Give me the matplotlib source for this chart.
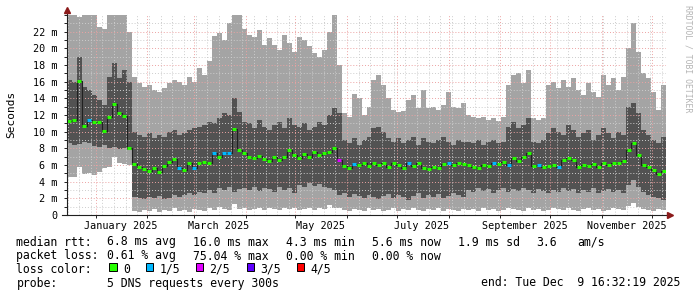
from datetime import datetime, timedelta

import matplotlib
matplotlib.use("Agg")
import matplotlib.dates as mdates
import matplotlib.pyplot as plt
import numpy as np
from matplotlib.patches import Rectangle
from matplotlib.ticker import FixedLocator, MultipleLocator, NullFormatter

# 360 days ending Tue Dec 9 16:32:19 2025, values in 3-day bins (ms)
start = datetime(2024, 12, 14, 16, 32, 19)
end = datetime(2025, 12, 9, 16, 32, 19)
bin_days = 3

light_top = [
    24, 24, 23.7, 24, 24, 24, 22.6, 22.3, 24, 24,
    24, 24, 22.0, 16.5, 15.8, 15.3, 15.6, 15.0, 14.8, 15.2,
    15.8, 16.2, 16.0, 15.6, 16.6, 16.0, 17.6, 16.8, 18.5, 21.5,
    21.8, 21.0, 23.0, 24, 24, 22.3, 21.6, 21.4, 22.2, 20.4,
    21.2, 20.4, 19.8, 21.6, 20.6, 19.5, 21.4, 21.0, 20.3, 19.4,
    19.0, 19.8, 22.0, 24, 18.0, 12.2, 11.8, 14.5, 14.0, 12.0,
    13.0, 16.2, 16.8, 15.6, 14.0, 12.6, 12.3, 12.5, 13.8, 14.4,
    12.8, 15.0, 12.8, 13.0, 12.6, 13.2, 14.8, 13.0, 12.8, 13.4,
    12.0, 11.8, 11.6, 11.8, 11.4, 11.6, 11.3, 11.8, 15.6, 16.8,
    17.0, 15.8, 17.4, 11.6, 11.4, 11.6, 15.6, 16.0, 15.2, 16.2,
    15.4, 16.4, 15.0, 14.4, 15.8, 14.8, 14.2, 16.8, 15.6, 16.4,
    15.0, 16.6, 20.0, 23.0, 19.6, 17.0, 16.4, 14.8, 12.6, 15.6,
]
dark_top = [
    16.2, 16.0, 19.0, 15.4, 15.0, 14.4, 13.8, 13.2, 16.6, 18.2,
    16.4, 17.4, 16.0, 10.0, 9.6, 9.4, 9.8, 9.2, 9.6, 9.4,
    10.0, 10.2, 9.6, 9.8, 10.2, 10.4, 10.6, 10.8, 11.2, 11.0,
    11.6, 12.2, 12.0, 14.0, 12.4, 11.2, 11.0, 10.4, 11.4, 10.6,
    10.2, 10.8, 11.2, 10.4, 11.6, 10.8, 10.6, 11.0, 10.2, 10.6,
    11.2, 10.8, 12.0, 12.8, 12.2, 9.0, 8.6, 9.2, 8.4, 9.0,
    9.4, 10.4, 10.6, 10.0, 9.2, 8.8, 9.2, 8.6, 9.0, 9.4,
    8.4, 9.2, 8.8, 8.6, 9.0, 9.4, 8.8, 8.4, 9.0, 8.8,
    8.8, 8.6, 9.0, 8.4, 8.8, 9.0, 8.6, 8.8, 10.6, 11.2,
    10.4, 10.8, 11.6, 8.8, 8.6, 9.0, 9.8, 10.4, 10.0, 9.6,
    10.8, 10.2, 9.4, 9.8, 10.2, 9.0, 9.6, 10.4, 9.8, 9.2,
    10.0, 9.6, 13.0, 13.4, 12.2, 10.2, 9.6, 9.0, 8.6, 9.4,
]
median = [
    11.3, 11.4, 16.1, 10.7, 11.4, 11.2, 11.1, 10.1, 11.7, 13.3,
    12.2, 11.9, 8.0, 6.1, 5.8, 5.5, 5.3, 5.7, 5.2, 5.9,
    6.4, 6.7, 5.6, 5.4, 6.3, 5.6, 6.2, 6.4, 6.3, 7.4,
    7.0, 7.5, 7.4, 10.3, 7.8, 7.4, 7.0, 6.8, 7.1, 6.7,
    6.5, 6.9, 6.6, 7.0, 7.8, 7.2, 6.8, 7.3, 6.9, 7.6,
    7.2, 7.4, 7.6, 8.1, 6.6, 5.9, 5.7, 6.1, 6.0, 6.2,
    5.9, 6.3, 6.0, 6.2, 5.8, 6.3, 6.0, 5.6, 6.2, 5.9,
    6.3, 5.7, 5.5, 5.8, 5.6, 6.1, 6.2, 6.0, 6.3, 6.1,
    6.0, 5.8, 5.7, 6.0, 5.9, 6.2, 6.1, 6.4, 6.0, 6.8,
    6.5, 6.9, 7.4, 5.9, 6.0, 5.8, 5.9, 6.0, 5.8, 6.6,
    6.8, 6.6, 5.8, 6.0, 5.9, 6.1, 5.8, 6.2, 6.0, 6.3,
    6.2, 6.5, 7.8, 8.6, 7.2, 6.0, 5.8, 5.4, 4.9, 5.3,
]
dark_bottom = [
    8.6, 8.4, 8.5, 8.8, 8.6, 8.3, 8.2, 8.4, 8.0, 8.2,
    7.9, 8.1, 7.8, 2.2, 2.0, 1.9, 2.2, 2.0, 2.3, 1.9,
    2.1, 2.4, 2.2, 2.4, 2.6, 2.4, 2.8, 2.6, 3.0, 2.7,
    3.2, 3.0, 3.4, 2.8, 3.1, 3.2, 3.0, 3.4, 2.9, 3.3,
    3.1, 2.8, 3.4, 3.0, 3.2, 2.7, 3.6, 3.4, 3.8, 3.5,
    3.7, 3.4, 3.2, 3.0, 2.4, 2.6, 2.2, 2.5, 2.3, 2.0,
    2.4, 2.2, 1.9, 2.3, 2.5, 2.1, 2.4, 2.2, 1.8, 2.3,
    2.6, 2.0, 2.4, 2.2, 2.5, 2.1, 2.3, 2.6, 2.4, 2.2,
    3.0, 2.8, 3.2, 2.9, 3.1, 2.7, 3.0, 3.3, 2.8, 3.1,
    2.9, 3.2, 3.0, 2.7, 3.1, 2.9, 2.6, 3.0, 2.8, 3.2,
    2.9, 3.1, 2.7, 3.0, 2.8, 3.2, 2.6, 2.9, 3.1, 2.8,
    3.0, 2.7, 3.6, 4.2, 3.4, 2.8, 2.4, 2.2, 2.0, 1.8,
]
light_bottom = [
    4.5, 4.6, 5.8, 4.9, 5.0, 4.8, 5.2, 5.6, 5.8, 7.0,
    6.2, 6.1, 6.0, 0.5, 0.4, 0.6, 0.5, 0.7, 0.4, 0.6,
    0.5, 0.8, 0.5, 0.6, 0.4, 0.7, 0.6, 0.5, 0.8, 0.6,
    1.0, 0.7, 0.6, 1.3, 0.7, 0.8, 0.6, 0.7, 0.9, 0.6,
    0.8, 0.7, 0.6, 0.9, 0.7, 0.8, 0.6, 0.7, 0.9, 0.6,
    0.8, 0.7, 1.2, 0.9, 0.8, 0.6, 0.5, 0.7, 0.6, 0.5,
    0.8, 0.6, 0.7, 0.5, 0.6, 0.8, 0.5, 0.7, 0.6, 0.9,
    0.6, 0.5, 0.7, 0.6, 0.8, 0.5, 0.7, 0.6, 0.5, 0.7,
    0.6, 0.7, 0.5, 0.8, 0.6, 0.7, 0.5, 0.6, 0.8, 0.7,
    0.6, 0.5, 0.9, 0.6, 0.7, 0.5, 0.6, 0.8, 0.7, 0.6,
    0.9, 0.6, 0.5, 0.7, 0.8, 0.6, 0.7, 0.5, 0.6, 0.8,
    0.7, 0.6, 1.1, 1.4, 1.0, 0.7, 0.6, 0.5, 0.7, 0.6,
]
# lost pings out of 5 per bin
loss = [
    0, 0, 0, 0, 1, 0, 0, 0, 0, 0,
    0, 0, 0, 0, 0, 0, 0, 0, 0, 0,
    0, 0, 1, 0, 0, 1, 0, 0, 0, 1,
    0, 1, 1, 0, 0, 0, 0, 0, 0, 0,
    0, 0, 0, 0, 0, 0, 0, 0, 0, 0,
    0, 0, 0, 0, 2, 0, 0, 1, 0, 0,
    0, 0, 0, 0, 0, 0, 0, 0, 1, 0,
    0, 0, 0, 0, 0, 0, 1, 0, 0, 0,
    0, 0, 0, 0, 0, 1, 0, 0, 1, 0,
    0, 0, 0, 0, 1, 0, 0, 0, 1, 0,
    0, 0, 0, 0, 0, 0, 0, 0, 0, 0,
    0, 0, 0, 0, 0, 0, 0, 0, 0, 0,
]

loss_labels = ["0", "1/5", "2/5", "3/5", "4/5"]
loss_colors = ["#26ff00", "#00b8ff", "#e000ff", "#5e00ff", "#ff0000"]

legend_rtt = ["6.8 ms avg", "16.0 ms max", "4.3 ms min", "5.6 ms now", "1.9 ms sd", "3.6", "am/s"]
legend_loss = ["0.61 % avg", "75.04 % max", "0.00 % min", "0.00 % now"]
probe_text = "5 DNS requests every 300s"
end_text = "end: Tue Dec  9 16:32:19 2025"

W, H = 697, 297
MONO = "DejaVu Sans Mono"
LIGHT = "#a4a4a4"
DARK = "#525252"
GRID = "#cdcdcd"
MGRID = "#ec a2a2".replace(" ", "")
ARROW = "#8b1a1a"

fig = plt.figure(figsize=(W / 100, H / 100), dpi=100)
ax = fig.add_axes([67 / W, (H - 215) / H, 599 / W, 200 / H])

t0 = mdates.date2num(start)
edges = t0 + bin_days * np.arange(len(median) + 1)


def ext(values):
    return np.append(values, values[-1])


ax.fill_between(edges, ext(light_bottom), ext(light_top), step="post",
                color=LIGHT, linewidth=0, zorder=1)
ax.fill_between(edges, ext(dark_bottom), ext(dark_top), step="post",
                color=DARK, linewidth=0, zorder=1.1)

# grid on top of the smoke, like rrdtool
dots = (0, (1, 2))
for v in range(1, 24):
    ax.axhline(v, color=MGRID if v % 2 == 0 else GRID, lw=0.7, ls=dots, zorder=2)
month_starts = [datetime(2025, m, 1) for m in range(1, 13)]
sunday = datetime(2024, 12, 15)
while sunday < end:
    if sunday.day != 1:
        ax.axvline(mdates.date2num(sunday), color=GRID, lw=0.7, ls=dots, zorder=2)
    sunday += timedelta(days=7)
for m in month_starts:
    ax.axvline(mdates.date2num(m), color=MGRID, lw=0.7, ls=dots, zorder=2.1)

# median: thin dark step line plus loss-coloured segments
ax.step(edges, ext(median), where="post", color="#202020", lw=0.8, zorder=3)
seg_colors = [loss_colors[k] for k in loss]
ax.hlines(median, edges[:-1] + 0.3, edges[1:] - 0.3, colors=seg_colors, lw=2.2, zorder=4)

ax.set_xlim(t0, mdates.date2num(end))
ax.set_ylim(0, 24)
for s in ax.spines.values():
    s.set_visible(False)

# axes with arrows
ax.plot([0, 0], [0, 1.02], transform=ax.transAxes, color="#202020", lw=0.8, clip_on=False, zorder=5)
ax.plot([-0.008, 1.004], [0, 0], transform=ax.transAxes, color="#202020", lw=0.8, clip_on=False, zorder=5)
ax.plot([0], [1.027], transform=ax.transAxes, marker="^", ms=4, color=ARROW, clip_on=False, zorder=6)
ax.plot([1.0075], [0], transform=ax.transAxes, marker=">", ms=4, color=ARROW, clip_on=False, zorder=6)

ax.yaxis.set_minor_locator(MultipleLocator(1))
ax.set_yticks(range(0, 23, 2), ["0"] + [f"{v} m" for v in range(2, 23, 2)])
ax.tick_params(axis="y", which="both", direction="out", length=2, width=0.7,
               color="#202020", pad=5, labelsize=7.3)
for lab in ax.get_yticklabels():
    lab.set_family(MONO)

label_months = [datetime(2025, m, 16) for m in (1, 3, 5, 7, 9, 11)]
ax.xaxis.set_major_locator(FixedLocator(mdates.date2num(label_months)))
ax.set_xticklabels([d.strftime("%B %Y") for d in label_months])
ax.xaxis.set_minor_locator(FixedLocator(mdates.date2num(month_starts)))
ax.xaxis.set_minor_formatter(NullFormatter())
ax.tick_params(axis="x", which="major", length=0, pad=4, labelsize=7.3)
ax.tick_params(axis="x", which="minor", direction="out", length=2, width=0.7, color="#202020")
for lab in ax.get_xticklabels():
    lab.set_family(MONO)

fig.text(11 / W, 1 - 114 / H, "Seconds", rotation=90, ha="center", va="center",
         family=MONO, fontsize=8)
fig.text(688 / W, 1 - 5 / H, "RRDTOOL / TOBI OETIKER", rotation=270, ha="center",
         va="top", family=MONO, fontsize=5.9, color="#b4b4b4")


def put(x, y, s, **kw):
    fig.text(x / W, 1 - y / H, s, va="center", ha=kw.pop("ha", "left"),
             family=MONO, fontsize=8.3, **kw)


put(16.5, 242, "median rtt:")
for x, s in zip([107, 193.5, 286, 371.5, 458, 536, 577.5], legend_rtt):
    put(x, 242, s)
put(16.5, 256, "packet loss:")
for x, s in zip([107, 193.5, 286, 371.5], legend_loss):
    put(x, 256, s)
put(16.5, 269.5, "loss color:")
for bx, lab, col in zip([109.3, 146, 196, 246.5, 297], loss_labels, loss_colors):
    fig.patches.append(Rectangle((bx / W, 1 - 271.3 / H), 7.3 / W, 8.3 / H,
                                 transform=fig.transFigure, facecolor=col,
                                 edgecolor="black", lw=0.7))
    put(bx + 13.5, 269.5, lab)
put(16.5, 283, "probe:")
put(107, 283, probe_text)
put(680, 283, end_text, ha="right")

fig.savefig("out.png", dpi=100, facecolor="white")
